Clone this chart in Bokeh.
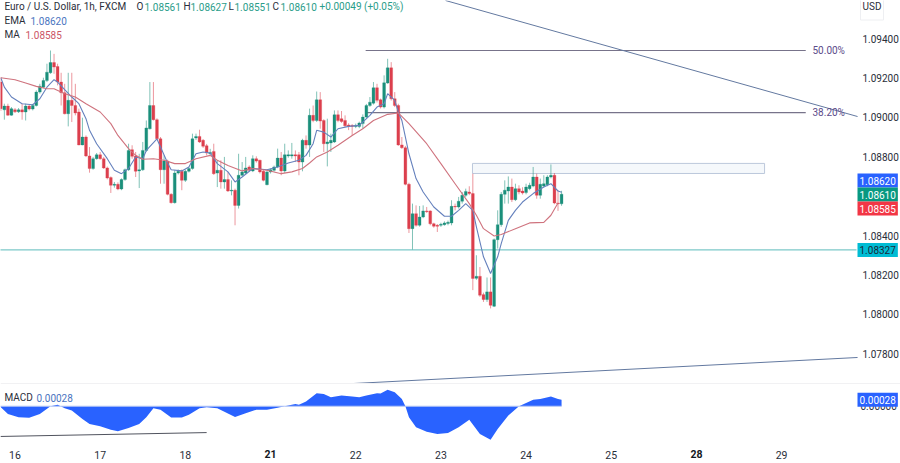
from bokeh.embed import file_html
from bokeh.resources import INLINE
from bokeh.plotting import figure
from bokeh.layouts import column
from bokeh.models import ColumnDataSource, Label, FixedTicker, Span, NumeralTickFormatter, Range1d

hours = list(range(-4, 155))
opens = [
 1.09179,1.09038,1.09057,1.09011,1.09038,1.09028,1.09038,1.09027,1.09057,1.09042,
 1.09060,1.09128,1.09153,1.09187,1.09226,1.09278,1.09258,1.09179,1.09125,1.09018,
 1.09086,1.09060,1.09027,1.08860,1.08900,1.08804,1.08740,1.08790,1.08810,1.08790,
 1.08743,1.08694,1.08655,1.08660,1.08636,1.08684,1.08734,1.08836,1.08804,1.08728,
 1.08734,1.08832,1.08942,1.09060,1.08988,1.08891,1.08734,1.08778,1.08609,1.08567,
 1.08717,1.08726,1.08680,1.08726,1.08740,1.08895,1.08903,1.08883,1.08856,1.08815,
 1.08827,1.08717,1.08731,1.08672,1.08684,1.08626,1.08630,1.08553,1.08706,1.08717,
 1.08748,1.08728,1.08790,1.08782,1.08726,1.08658,1.08723,1.08731,1.08748,1.08793,
 1.08728,1.08804,1.08804,1.08810,1.08810,1.08773,1.08883,1.08859,1.09010,1.08984,
 1.09089,1.08984,1.08866,1.08870,1.08875,1.09013,1.08993,1.08984,1.08961,1.08959,
 1.08954,1.08954,1.08968,1.09001,1.09060,1.09072,1.09150,1.09089,1.09052,1.09174,
 1.09251,1.09094,1.09060,1.08860,1.08846,1.08660,1.08435,1.08511,1.08452,1.08494,
 1.08525,1.08525,1.08460,1.08452,1.08452,1.08455,1.08461,1.08464,1.08548,1.08545,
 1.08574,1.08604,1.08621,1.08613,1.08183,1.08193,1.08100,1.08075,1.08114,1.08041,
 1.08379,1.08455,1.08609,1.08626,1.08646,1.08582,1.08638,1.08626,1.08618,1.08638,
 1.08651,1.08697,1.08604,1.08651,1.08658,1.08697,1.08706,1.08565,1.08561]
closes = [
 1.09044,1.09057,1.09011,1.09044,1.09028,1.09038,1.09027,1.09057,1.09042,1.09060,
 1.09128,1.09158,1.09187,1.09229,1.09278,1.09255,1.09179,1.09125,1.09018,1.09086,
 1.09060,1.09022,1.08860,1.08900,1.08804,1.08740,1.08790,1.08810,1.08790,1.08743,
 1.08692,1.08655,1.08660,1.08636,1.08684,1.08734,1.08832,1.08802,1.08726,1.08734,
 1.08832,1.08946,1.09060,1.08988,1.08891,1.08734,1.08778,1.08609,1.08567,1.08717,
 1.08726,1.08680,1.08726,1.08740,1.08891,1.08903,1.08875,1.08853,1.08819,1.08822,
 1.08714,1.08731,1.08672,1.08684,1.08626,1.08630,1.08553,1.08706,1.08723,1.08743,
 1.08731,1.08790,1.08778,1.08723,1.08680,1.08723,1.08734,1.08748,1.08793,1.08728,
 1.08810,1.08810,1.08810,1.08804,1.08773,1.08883,1.08859,1.09010,1.08984,1.09089,
 1.08981,1.08866,1.08875,1.08883,1.09013,1.08984,1.08979,1.08957,1.08954,1.08954,
 1.08959,1.08971,1.09001,1.09060,1.09077,1.09150,1.09086,1.09052,1.09175,1.09251,
 1.09094,1.09060,1.08860,1.08846,1.08660,1.08435,1.08511,1.08452,1.08494,1.08525,
 1.08521,1.08460,1.08447,1.08447,1.08457,1.08464,1.08467,1.08548,1.08545,1.08574,
 1.08604,1.08624,1.08613,1.08182,1.08193,1.08097,1.08075,1.08114,1.08046,1.08379,
 1.08455,1.08609,1.08630,1.08646,1.08582,1.08638,1.08621,1.08616,1.08646,1.08655,
 1.08697,1.08604,1.08660,1.08663,1.08697,1.08706,1.08565,1.08561,1.08610]
highs = [
 1.09204,1.09069,1.09069,1.09052,1.09047,1.09047,1.09069,1.09069,1.09065,1.09068,
 1.09137,1.09170,1.09201,1.09272,1.09339,1.09322,1.09272,1.09226,1.09170,1.09226,
 1.09226,1.09170,1.09044,1.08998,1.08908,1.08849,1.08799,1.08819,1.08824,1.08799,
 1.08750,1.08700,1.08672,1.08670,1.08690,1.08740,1.08866,1.08858,1.08824,1.08815,
 1.08875,1.08984,1.09179,1.09179,1.08995,1.08900,1.08807,1.08785,1.08615,1.08731,
 1.08735,1.08735,1.08735,1.08748,1.08917,1.08917,1.08937,1.08890,1.08865,1.08840,
 1.08866,1.08782,1.08782,1.08799,1.08722,1.08680,1.08638,1.08815,1.08773,1.08799,
 1.08756,1.08807,1.08802,1.08785,1.08732,1.08731,1.08740,1.08755,1.08841,1.08824,
 1.08866,1.08832,1.08870,1.08832,1.08824,1.08891,1.08908,1.09044,1.09060,1.09131,
 1.09128,1.08990,1.08993,1.08917,1.09035,1.09035,1.09032,1.09010,1.08970,1.08965,
 1.08968,1.08978,1.09015,1.09068,1.09103,1.09179,1.09170,1.09095,1.09213,1.09297,
 1.09280,1.09128,1.09069,1.08900,1.08855,1.08668,1.08562,1.08553,1.08550,1.08553,
 1.08545,1.08528,1.08465,1.08458,1.08465,1.08472,1.08476,1.08579,1.08562,1.08596,
 1.08621,1.08638,1.08650,1.08714,1.08300,1.08240,1.08110,1.08187,1.08187,1.08385,
 1.08528,1.08621,1.08680,1.08700,1.08689,1.08663,1.08655,1.08645,1.08663,1.08668,
 1.08748,1.08714,1.08689,1.08706,1.08706,1.08761,1.08717,1.08630,1.08627]
lows = [
 1.09032,1.08988,1.09008,1.09008,1.09022,1.09022,1.08988,1.08984,1.09035,1.09035,
 1.09055,1.09120,1.09148,1.09179,1.09221,1.09221,1.09162,1.09060,1.09015,1.08954,
 1.08976,1.09010,1.08858,1.08858,1.08798,1.08719,1.08734,1.08785,1.08785,1.08738,
 1.08685,1.08616,1.08643,1.08630,1.08630,1.08678,1.08728,1.08790,1.08697,1.08641,
 1.08728,1.08825,1.08938,1.08984,1.08885,1.08663,1.08663,1.08604,1.08562,1.08562,
 1.08710,1.08630,1.08672,1.08720,1.08734,1.08885,1.08870,1.08845,1.08807,1.08810,
 1.08708,1.08646,1.08638,1.08638,1.08621,1.08604,1.08452,1.08537,1.08700,1.08712,
 1.08725,1.08722,1.08770,1.08715,1.08675,1.08655,1.08715,1.08725,1.08742,1.08706,
 1.08717,1.08795,1.08790,1.08773,1.08706,1.08726,1.08841,1.08799,1.08975,1.08976,
 1.08942,1.08824,1.08751,1.08824,1.08870,1.08975,1.08972,1.08950,1.08935,1.08908,
 1.08945,1.08945,1.08942,1.08995,1.09053,1.09065,1.09075,1.09045,1.09045,1.09170,
 1.09085,1.09052,1.08855,1.08840,1.08655,1.08413,1.08329,1.08445,1.08445,1.08488,
 1.08515,1.08452,1.08440,1.08418,1.08444,1.08450,1.08452,1.08452,1.08528,1.08537,
 1.08562,1.08596,1.08605,1.08123,1.08175,1.08089,1.08063,1.08063,1.08030,1.08037,
 1.08334,1.08444,1.08562,1.08562,1.08570,1.08575,1.08609,1.08608,1.08609,1.08630,
 1.08645,1.08587,1.08587,1.08645,1.08650,1.08690,1.08559,1.08525,1.08551]

ema_hours = [-4,-3,-1,2,5,7,9,11,12,14,16,18,20,21,23,26,28,30,32,34,36,37,40,41,43,44,47,49,51,53,55,57,60,62,64,67,71,74,77,80,82,84,85,87,89,91,94,97,100,102,104,105,107,108,109,111,113,115,118,121,123,125,127,129,130,132,134,136,137,139,141,143,146,149,151,153,154]
ema_vals = [1.09201,1.09153,1.09103,1.09069,1.09064,1.09094,1.09153,1.09191,1.09179,1.09140,1.09103,1.09069,1.08993,1.08934,1.08866,1.08790,1.08731,1.08714,1.08740,1.08799,1.08790,1.08832,1.08890,1.08849,1.08768,1.08734,1.08728,1.08748,1.08815,1.08824,1.08819,1.08765,1.08723,1.08672,1.08697,1.08740,1.08734,1.08748,1.08768,1.08782,1.08807,1.08866,1.08934,1.08925,1.08900,1.08942,1.08954,1.08959,1.09010,1.09052,1.09069,1.09120,1.09086,1.09027,1.08984,1.08815,1.08689,1.08621,1.08545,1.08498,1.08498,1.08528,1.08562,1.08528,1.08444,1.08292,1.08207,1.08292,1.08359,1.08477,1.08528,1.08570,1.08613,1.08646,1.08663,1.08626,1.08620]
ma_hours = [-4,0,3,6,9,11,14,17,20,24,27,29,32,34,36,39,42,45,48,51,55,57,60,64,67,71,75,78,81,83,85,88,91,95,98,101,105,108,111,116,120,124,128,130,132,135,137,141,145,149,151,153]
ma_vals = [1.09201,1.09191,1.09174,1.09157,1.09145,1.09145,1.09120,1.09103,1.09069,1.09027,1.08968,1.08908,1.08841,1.08807,1.08787,1.08790,1.08782,1.08765,1.08765,1.08790,1.08807,1.08782,1.08756,1.08728,1.08740,1.08731,1.08714,1.08723,1.08740,1.08768,1.08799,1.08824,1.08858,1.08908,1.08942,1.08984,1.09015,1.09022,1.08968,1.08866,1.08765,1.08663,1.08562,1.08503,1.08435,1.08398,1.08405,1.08435,1.08464,1.08467,1.08503,1.08565]
macd_hours = [-4,-2,1,4,7,10,12,14,16,19,21,24,27,29,32,35,37,39,41,44,47,49,52,54,57,62,65,68,71,74,77,79,80,82,85,87,89,92,95,97,99,102,103,105,107,109,110,111,113,116,119,122,125,128,131,134,136,139,142,146,148,151,153,154]
macd_vals = [-0.00004,-0.00034,-0.00049,-0.00051,-0.00034,0.0,0.00006,-0.00009,-0.00019,-0.00056,-0.00078,-0.00088,-0.00103,-0.00110,-0.00096,-0.00078,-0.00049,-0.00009,-0.00015,-0.00050,-0.00050,-0.00038,-0.00009,-0.00004,-0.00009,-0.00047,-0.00031,-0.00015,-0.00016,-0.00007,0.00003,0.00010,0.00006,0.00021,0.00057,0.00054,0.00040,0.00047,0.00043,0.00040,0.00047,0.00057,0.00056,0.00072,0.00062,0.00032,0.0,-0.00049,-0.00093,-0.00112,-0.00122,-0.00118,-0.00093,-0.00060,-0.00122,-0.00147,-0.00100,-0.00041,0.0,0.00029,0.00032,0.00043,0.00032,0.00028]

price_ticks = [1.078,1.080,1.082,1.084,1.088,1.090,1.092,1.094]
day_ticks = {0:"16",24:"17",48:"18",96:"22",120:"23",144:"24",168:"25",216:"29"}
bold_ticks = {72:"21",192:"28"}
support = 1.08327
fib_50 = 1.09339
fib_38 = 1.09024
FONT = "Roboto"
TXT = "#2a2e39"
UP = "#1a8f7b"
DOWN = "#dc3f4d"

colors = [UP if c >= o else DOWN for o, c in zip(opens, closes)]
src = ColumnDataSource(dict(h=hours, o=opens, c=closes, hi=highs, lo=lows, col=colors))

p = figure(frame_width=900, frame_height=383, x_range=Range1d(-4.086, 249.5), y_range=Range1d(1.07649, 1.095929),
           output_backend="svg", toolbar_location=None, min_border=0,
           x_axis_location=None, y_axis_location="right")
p.outline_line_color = None
p.grid.visible = False
ax = p.yaxis[0]
ax.fixed_location = 237.1
ax.ticker = FixedTicker(ticks=price_ticks)
ax.formatter = NumeralTickFormatter(format="0.00000")
ax.axis_line_color = None
ax.major_tick_line_color = None
ax.minor_tick_line_color = None
ax.major_tick_out = 0
ax.major_tick_in = 0
ax.major_label_standoff = 6
ax.major_label_text_font = FONT
ax.major_label_text_font_size = "10px"
ax.major_label_text_color = TXT

p.line([-5, 237.1], [support, support], color="#7cc9c9", line_width=1.3)
p.line([98.8, 222.8], [fib_50, fib_50], color="#77738a", line_width=1.1)
p.line([98.8, 222.8], [fib_38, fib_38], color="#77738a", line_width=1.1)
p.line([121.3, 237.4], [1.095929, 1.09004], color="#6379a0", line_width=1)
p.line([95.4, 237.4], [1.07649, 1.07781], color="#6379a0", line_width=1)
p.quad(left=[128.9], right=[211.2], top=[1.08766], bottom=[1.08715], fill_color="#e6edf6", fill_alpha=0.4,
       line_color="#bcc8db", line_width=1)
p.segment("h", "hi", "h", "lo", source=src, color="col", line_width=1, line_alpha=0.55)
p.vbar(x="h", top="o", bottom="c", width=0.8, source=src, fill_color="col", line_color="col", line_width=0.3)
p.line(ema_hours, ema_vals, color="#6581bd", line_width=1.1)
p.line(ma_hours, ma_vals, color="#cf737e", line_width=1.1)

def txt(fig, x, y, s, color=TXT, size="10px"):
    fig.add_layout(Label(x=x, y=y, x_units="screen", y_units="screen", text=s, text_color=color, text_font=FONT,
                         text_font_size=size, text_baseline="middle"))

GRN = "#2a9d8a"
for x, s, c in [(4, "Euro / U.S. Dollar, 1h, FXCM", TXT), (136, "O", TXT), (144, "1.08561", GRN), (183, "H", TXT),
                (190, "1.08627", GRN), (228, "L", TXT), (234, "1.08551", GRN), (272, "C", TXT), (280, "1.08610", GRN),
                (319, "+0.00049 (+0.05%)", GRN)]:
    txt(p, x, 377, s, c)
txt(p, 4, 363, "EMA"); txt(p, 30, 363, "1.08620", "#4a74c0")
txt(p, 4, 349, "MA"); txt(p, 25, 349, "1.08585", "#cc5566")
p.add_layout(Label(x=860, y=377, x_units="screen", y_units="screen", text="USD", text_color=TXT, text_font=FONT,
                   text_font_size="10px", text_baseline="middle", padding=(2, 8), border_line_color="#eeeff2"))

PUR = "#5b4b8a"
for lvl, s in [(fib_50, "50.00%"), (fib_38, "38.20%")]:
    p.add_layout(Label(x=812, y=lvl, x_units="screen", text=s, text_color=PUR, text_font=FONT,
                       text_font_size="10px", text_baseline="middle"))

def badge(fig, y, s, bg, color="#ffffff", units="data"):
    fig.add_layout(Label(x=857, y=y, x_units="screen", y_units=units, text=s, text_color=color, text_font=FONT,
                         text_font_size="10px", text_baseline="middle", background_fill_color=bg, padding=(2, 3)))
badge(p, 203, "1.08620", "#2962ff", units="screen")
badge(p, 189, "1.08610", "#089981", units="screen")
badge(p, 175, "1.08585", "#f23645", units="screen")
badge(p, support, "1.08327", "#00bcd4", "#1b2a38")

m = figure(frame_width=900, frame_height=80, x_range=Range1d(-4.086, 249.5), y_range=Range1d(-0.00252, 0.001),
           output_backend="svg", toolbar_location=None, min_border=0, y_axis_location=None)
m.outline_line_color = None
m.grid.visible = False
m.varea(x=macd_hours, y1=[0.0]*len(macd_hours), y2=macd_vals, fill_color="#2962ff")
m.line([-5, 154], [0, 0], color="#b4c6f5", line_width=1)
m.line([-4.1, 54], [-0.00133, -0.00116], color="#50535e", line_width=1)
m.add_layout(Span(location=0.001, dimension="width", line_color="#e3e4e8", line_width=1))
xa = m.xaxis[0]
xa.fixed_location = -0.001685
xa.ticker = FixedTicker(ticks=list(day_ticks))
xa.major_label_overrides = dict(day_ticks)
xa.axis_line_color = None
xa.major_tick_line_color = None
xa.minor_tick_line_color = None
xa.major_tick_out = 0
xa.major_tick_in = 0
xa.major_label_standoff = 6
xa.major_label_text_font = FONT
xa.major_label_text_font_size = "10.5px"
xa.major_label_text_color = TXT
for h, s in bold_ticks.items():
    m.add_layout(Label(x=h, y=-0.00212, text=s, text_font=FONT, text_font_size="10.5px", text_font_style="bold",
                       text_color="#131722", text_align="center", text_baseline="middle"))
txt(m, 4, 66, "MACD")
txt(m, 36, 66, "0.00028", "#4a74c0")
m.add_layout(Label(x=860, y=0, x_units="screen", text="0.00000", text_color=TXT, text_font=FONT,
                   text_font_size="10px", text_baseline="middle"))
m.add_layout(Label(x=857, y=0.00028, x_units="screen", text="0.00028", text_color="#ffffff", text_font=FONT,
                   text_font_size="10px", text_baseline="middle", background_fill_color="#2962ff", padding=(2, 3)))

open("out.html", "w").write(file_html(column(p, m, spacing=0), INLINE))
